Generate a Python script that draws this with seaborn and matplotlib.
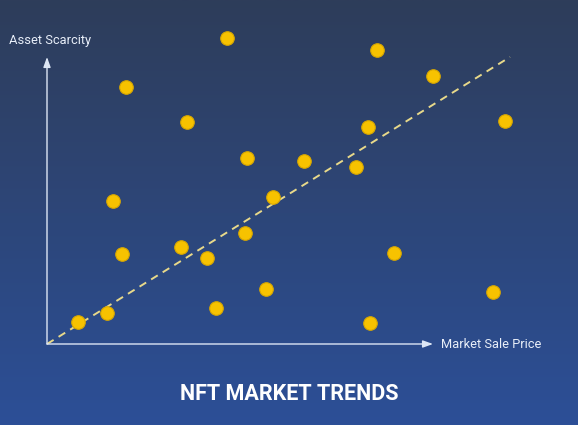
import numpy as np
import pandas as pd
import seaborn as sns
import matplotlib.pyplot as plt
from matplotlib.colors import LinearSegmentedColormap

# values (0-100 scale along each axis)
price = [6.7, 13.0, 17.1, 14.3, 16.2, 28.9, 30.2, 34.6, 36.5, 38.9, 42.8, 43.2,
         47.3, 48.8, 55.5, 66.7, 69.3, 69.8, 71.3, 74.9, 83.4, 96.3, 98.9]
scarcity = [7.7, 10.8, 89.5, 49.8, 31.4, 33.8, 77.4, 30.0, 12.5, 106.6, 38.7, 64.8,
            19.2, 51.2, 63.8, 61.7, 75.6, 7.3, 102.4, 31.7, 93.4, 18.1, 77.7]
trend_x = [0, 100]
trend_y = [0, 100]

df = pd.DataFrame({'price': price, 'scarcity': scarcity})

sns.set_theme(style='white')
plt.rcParams['font.family'] = ['Roboto', 'DejaVu Sans']

fig = plt.figure(figsize=(5.78, 4.25), dpi=100)
ax = fig.add_axes([0, 0, 1, 1])

# gradient background
bg = LinearSegmentedColormap.from_list('bg', ['#2c4f97', '#2e3d5a'])
xmin, xmax = -47 / 4.63, (578 - 47) / 4.63
ymin, ymax = (344 - 425) / 2.87, 344 / 2.87
grad = np.linspace(0, 1, 256).reshape(-1, 1)
ax.imshow(grad, cmap=bg, aspect='auto', origin='lower',
          extent=[xmin, xmax, ymin, ymax], zorder=0)

# trend line
ax.plot(trend_x, trend_y, linestyle=(0, (4, 3)), color='#e8d98a', lw=1.4, zorder=2)

sns.scatterplot(data=df, x='price', y='scarcity', ax=ax, s=95,
                color='#f7c200', edgecolor='#d9a800', linewidth=0.8, zorder=3)

# axes arrows
arrow = dict(arrowstyle='-|>,head_length=0.5,head_width=0.18', color='#dde6f5', lw=1.0,
             shrinkA=0, shrinkB=0)
ax.annotate('', xy=(0, (344 - 57) / 2.87), xytext=(0, 0), arrowprops=arrow, zorder=4)
ax.annotate('', xy=((433 - 47) / 4.63, 0), xytext=(0, 0), arrowprops=arrow, zorder=4)

ax.text(-8.2, (344 - 41) / 2.87, 'Asset Scarcity', color='#e8eef8', fontsize=9.3,
        va='center', ha='left')
ax.text((441 - 47) / 4.63, 0, 'Market Sale Price', color='#e8eef8', fontsize=9.3,
        va='center', ha='left')
ax.text((289 - 47) / 4.63, (344 - 394) / 2.87, 'NFT MARKET TRENDS', color='white',
        fontsize=15.5, fontweight='bold', va='center', ha='center')

ax.set_xlim(xmin, xmax)
ax.set_ylim(ymin, ymax)
ax.set_axis_off()

fig.savefig('out.png', dpi=100)
